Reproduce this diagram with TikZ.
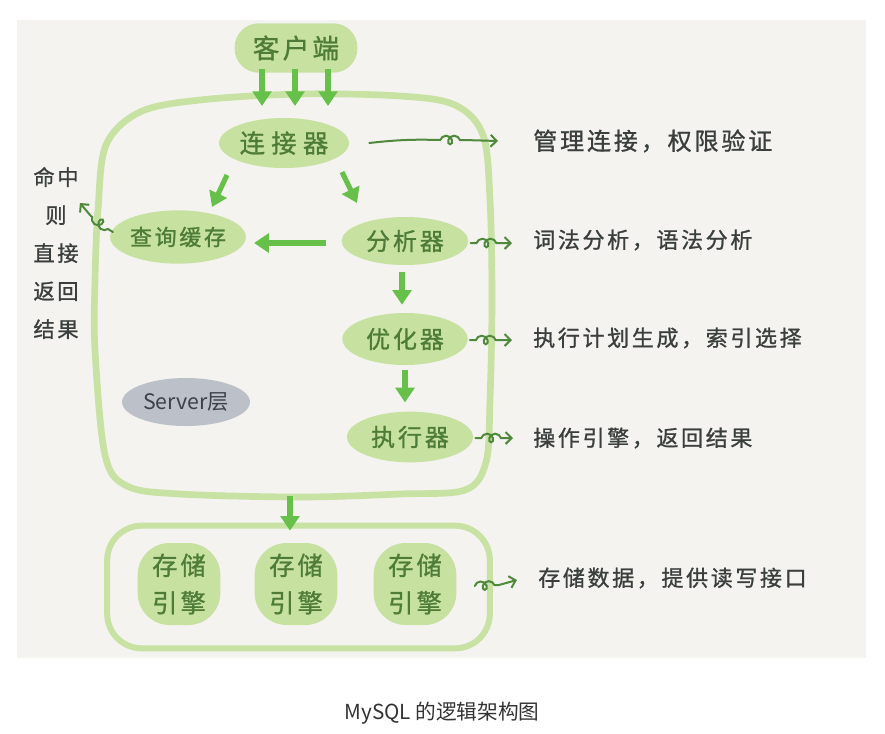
\documentclass[tikz,border=0pt]{standalone}
\usepackage{fontspec}
\usetikzlibrary{shapes.geometric,arrows.meta,decorations.pathmorphing,calc}
\newfontfamily\hand[LetterSpace=12,FakeBold=1]{Noto Sans CJK SC}
\newfontfamily\handw[LetterSpace=25,FakeBold=1]{Noto Sans CJK SC}
\newfontfamily\plainf{Noto Sans CJK SC}
\definecolor{panel}{HTML}{F4F3EF}
\definecolor{blob}{HTML}{C6E1A0}
\definecolor{framec}{HTML}{C7E2A3}
\definecolor{arrowg}{HTML}{66C04A}
\definecolor{ntext}{HTML}{4E7C38}
\definecolor{sqg}{HTML}{4F8A3C}
\definecolor{ltext}{HTML}{3A3E3C}
\definecolor{grayblob}{HTML}{BCC1C9}
\definecolor{stext}{HTML}{3D424A}
\definecolor{captext}{HTML}{333333}
\begin{document}
\begin{tikzpicture}[x=0.75pt,y=-0.75pt,
  blobnode/.style={ellipse,fill=blob,draw=none,inner sep=0pt,text=ntext},
  enginenode/.style={rectangle,rounded corners=24pt,fill=blob,draw=none,inner sep=0pt,text=ntext,
     minimum width=62pt,minimum height=61.5pt,align=center,
     font=\hand\fontsize{19}{28}\selectfont},
  bigarrow/.style={draw=arrowg,line width=3.8pt,-{Triangle[width=14pt,length=11pt]}},
  sq/.style={draw=sqg,line width=1.5pt,line cap=round,-{Straight Barb[length=4.5pt,width=9pt]},
     decoration={coil,amplitude=3.2pt,segment length=6pt,aspect=0.9}},
  lbl/.style={anchor=west,text=ltext,font=\hand\fontsize{16.5}{19}\selectfont,inner sep=0pt},
]
\useasboundingbox (0,0) rectangle (885,733);
\fill[white] (0,0) rectangle (885,733);
\fill[panel] (17,20) rectangle (866,658);

% server frame
\draw[framec,line width=5pt] plot[smooth cycle,tension=0.55] coordinates {
 (98,210) (106,145) (140,112) (200,100) (300,94) (400,96) (455,105) (483,135)
 (490,200) (492,300) (490,400) (486,462) (465,490) (400,494) (300,497) (180,494)
 (127,486) (105,455) (95,350) (95,280)};

% storage frame
\node[draw=framec,line width=4.5pt,rectangle,rounded corners=26pt,minimum width=287pt,minimum height=92pt,inner sep=0pt] (store) at (298.5,587) {};

% client
\node[rectangle,rounded corners=18pt,fill=blob,inner sep=0pt,minimum width=92pt,minimum height=37pt,text=ntext,
  font=\hand\fontsize{20}{24}\selectfont] (client) at (296,48) {客户端};

% server nodes
\node[blobnode,minimum width=97.5pt,minimum height=37.5pt,font=\handw\fontsize{19}{22}\selectfont] (ljq) at (284,143) {连接器};
\node[blobnode,minimum width=96pt,minimum height=40pt,font=\hand\fontsize{16.5}{20}\selectfont] (cache) at (178,237) {查询缓存};
\node[blobnode,minimum width=95pt,minimum height=36pt,font=\hand\fontsize{18}{22}\selectfont] (fx) at (405,241) {分析器};
\node[blobnode,minimum width=94pt,minimum height=39pt,font=\hand\fontsize{18}{22}\selectfont] (yh) at (405,339) {优化器};
\node[blobnode,minimum width=94.5pt,minimum height=38pt,font=\hand\fontsize{18}{22}\selectfont] (zx) at (410,437) {执行器};
\node[ellipse,fill=grayblob,inner sep=0pt,minimum width=96pt,minimum height=36pt,text=stext,
  font=\plainf\fontsize{16}{20}\selectfont] (server) at (186,402) {Server层};

% engines
\node[enginenode] (e1) at (179,584) {存储\\引擎};
\node[enginenode] (e2) at (296,584) {存储\\引擎};
\node[enginenode] (e3) at (415,584) {存储\\引擎};

% labels
\node[lbl,font=\hand\fontsize{18}{22}\selectfont] (l1) at (533,141) {管理连接，权限验证};
\node[lbl] (l2) at (533,240) {词法分析，语法分析};
\node[lbl] (l3) at (533,338) {执行计划生成，索引选择};
\node[lbl] (l4) at (533,438) {操作引擎，返回结果};
\node[lbl] (l5) at (538,578) {存储数据，提供读写接口};
\node[text=ltext,align=center,inner sep=0pt,font=\hand\fontsize{16}{28.5}\selectfont] (hit) at (56,253) {命中\\则\\直接\\返回\\结果};

% caption
\node[text=captext,font=\plainf\fontsize{15.5}{19}\selectfont] (cap) at (442,713) {MySQL 的逻辑架构图};

% client arrows
\coordinate (t1) at (262,106);
\coordinate (t2) at (295,106);
\coordinate (t3) at (328,106);
\draw[bigarrow] ([yshift=3pt]client.south -| t1) -- (t1);
\draw[bigarrow] ([yshift=3pt]client.south -| t2) -- (t2);
\draw[bigarrow] ([yshift=3pt]client.south -| t3) -- (t3);

% internal arrows
\draw[bigarrow] ($(ljq.center)+(-57,32)$) -- ($(cache.center)+(34,-30)$);
\draw[bigarrow] ($(ljq.center)+(58,29)$) -- ($(fx.center)+(-48,-38)$);
\draw[bigarrow] ($(fx.west)+(-15,2)$) -- ($(cache.east)+(8,6)$);
\draw[bigarrow] ($(fx.south)+(-3,7)$) -- ($(yh.north)+(-3,-8)$);
\draw[bigarrow] ($(yh.south)+(0,5)$) -- ($(zx.north)+(-5,-9)$);
\coordinate (sb) at (290,496);
\draw[bigarrow] (sb) -- ($(store.north -| sb)+(0,8)$);

% squiggle connectors
\draw[sq] ($(ljq.east)+(20,0)$) to[bend left=4] ++(71,-3) decorate {-- ++(24,0)} -- ($(l1.west)+(-35,0)$);
\draw[sq] ($(fx.east)+(2,2)$) -- ++(6,0) decorate {-- ++(20,0)} -- ($(l2.west)+(-21,3)$);
\draw[sq] ($(yh.east)+(2,1)$) -- ++(6,0) decorate {-- ++(20,0)} -- ($(l3.west)+(-21,2)$);
\draw[sq] ($(zx.east)+(2,1)$) -- ++(6,0) decorate {-- ++(20,0)} -- ($(l4.west)+(-20,0)$);
\draw[sq] ($(store.east)+(-18,-1)$) decorate {-- ++(24,-1)} -- ($(l5.west)+(-21,2)$);
\draw[sq] ($(cache.west)+(3,-5)$) -- ++(-5,-3) decorate {-- ++(-17,-13)} -- ($(cache.west)+(-30,-34)$);
\end{tikzpicture}
\end{document}
